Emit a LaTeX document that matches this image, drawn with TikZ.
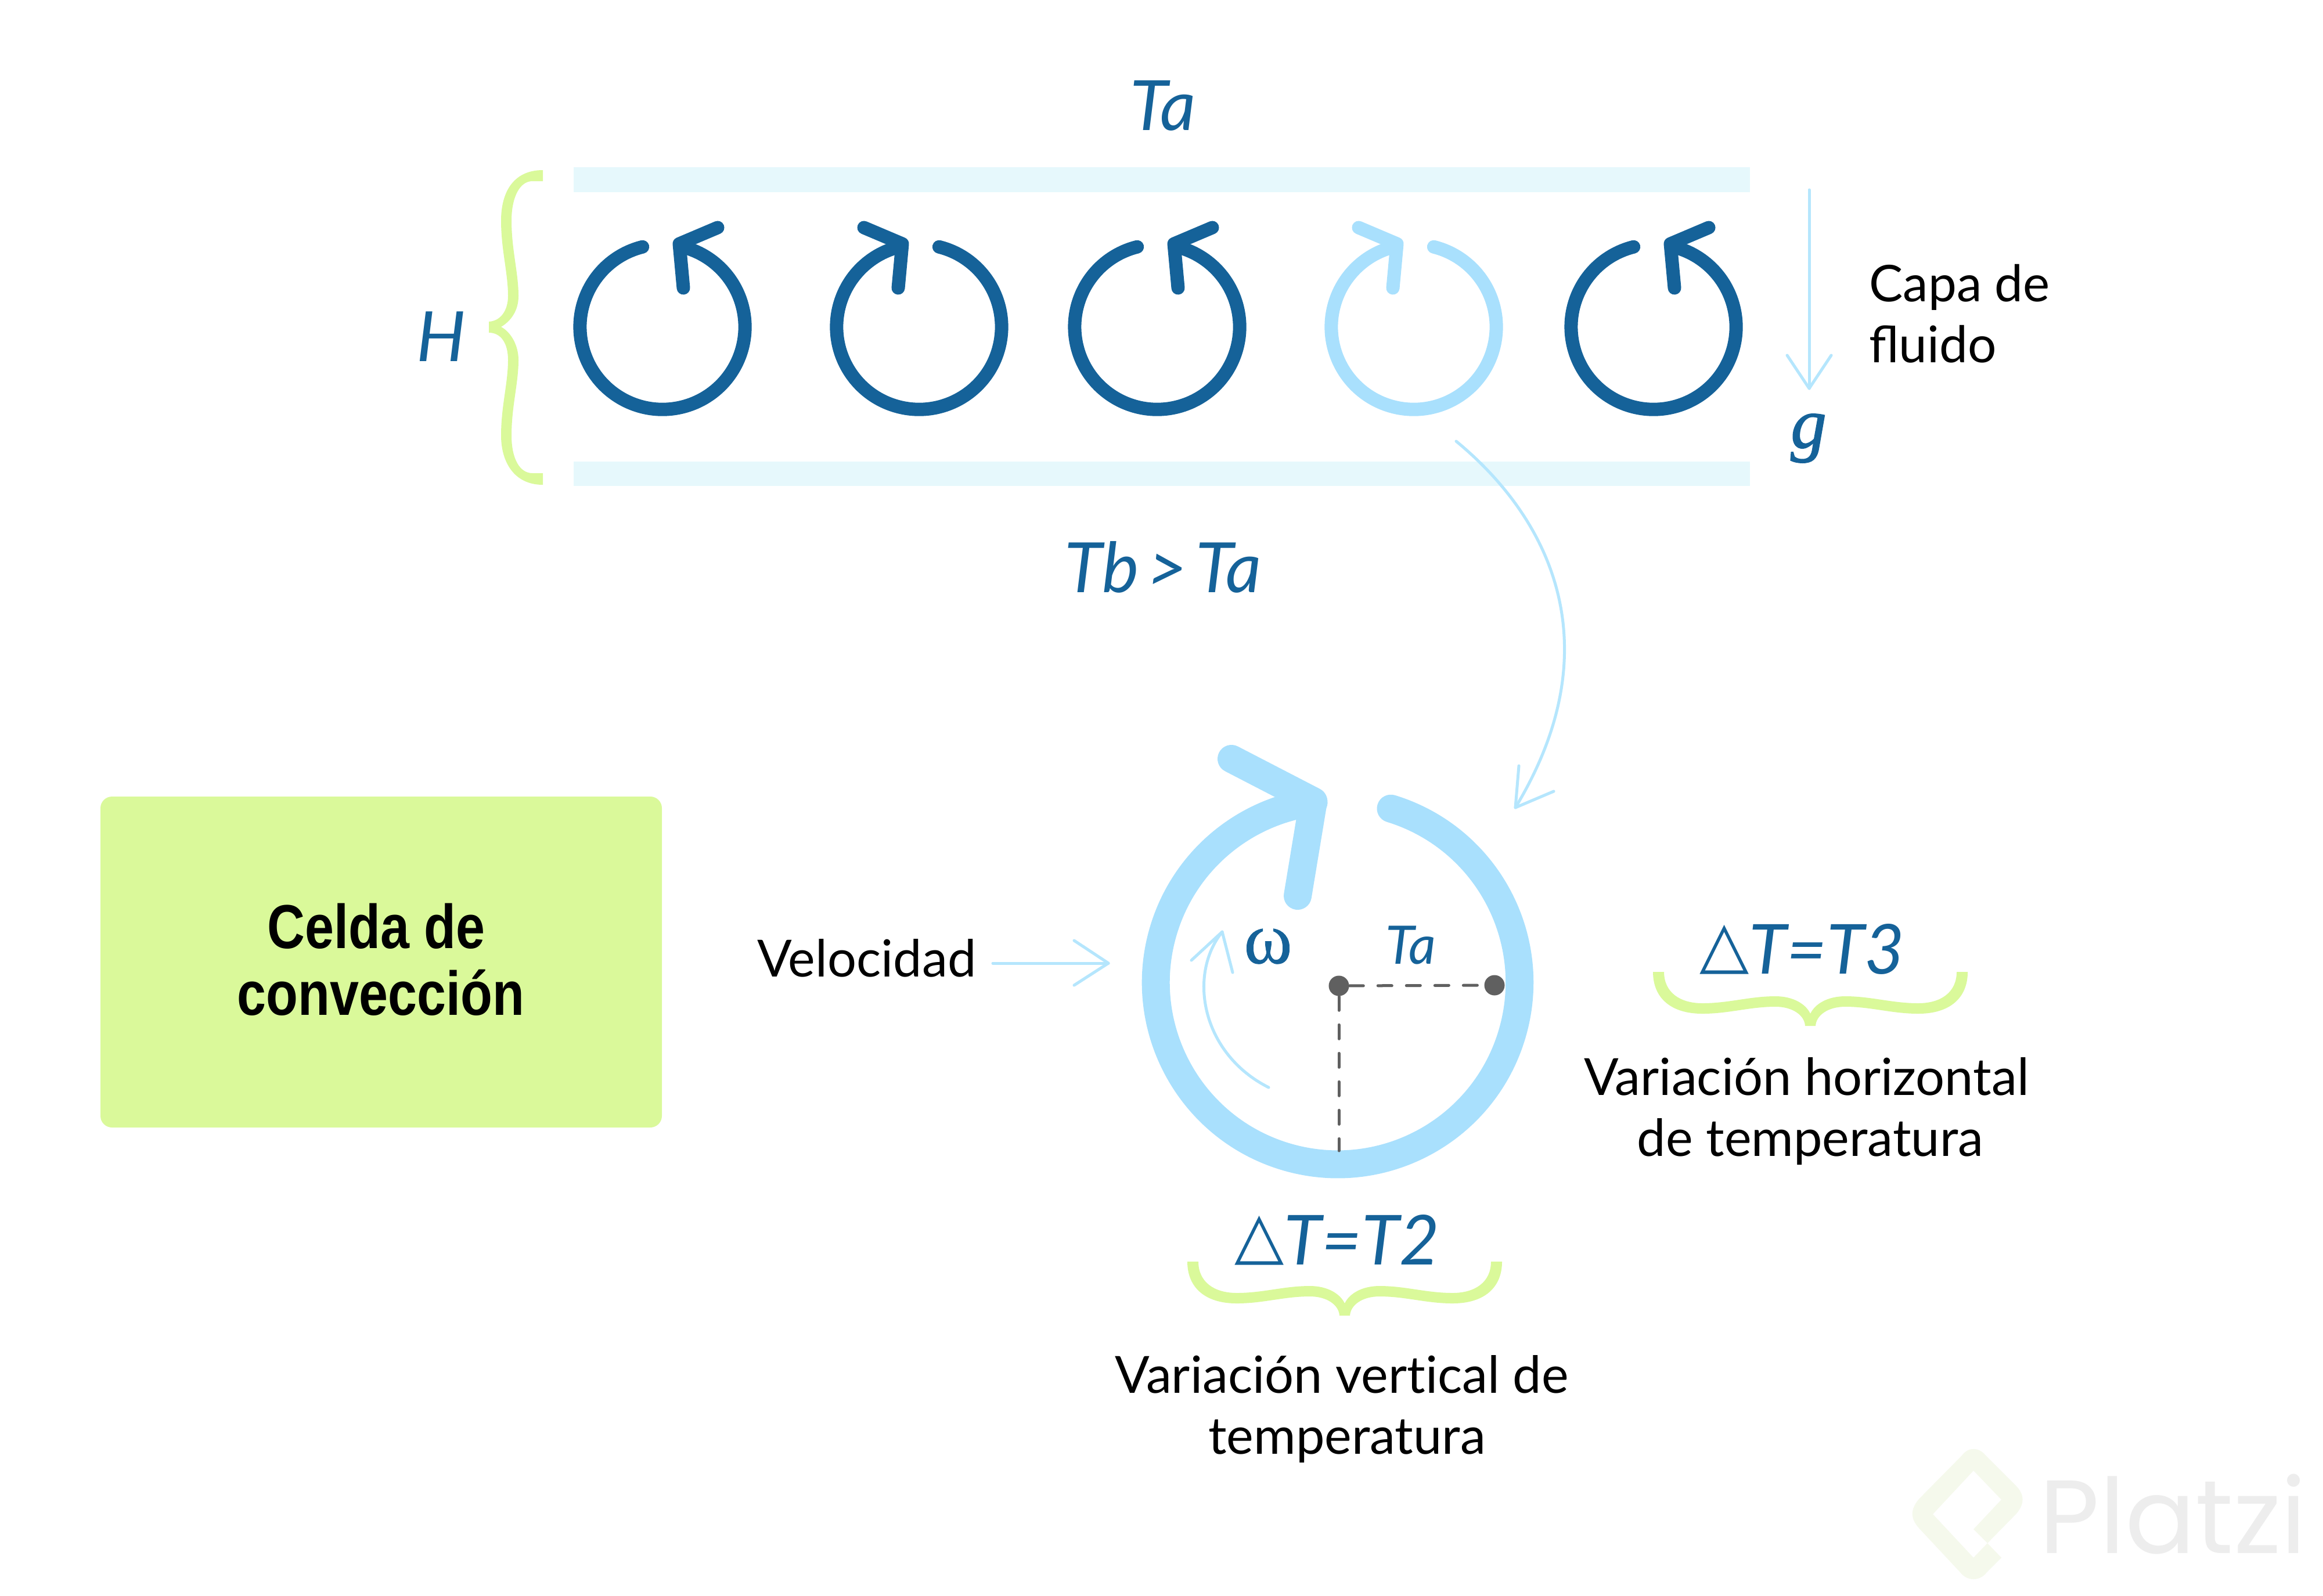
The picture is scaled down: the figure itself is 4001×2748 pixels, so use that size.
\documentclass[tikz,border=0pt]{standalone}
\usepackage{fontspec}
\setmainfont{Lato}
\newfontfamily\celdafont[FakeStretch=0.84]{Liberation Sans}
\newfontfamily\logofont{Poppins}
\newfontfamily\omegafont[FakeBold=0.6]{Liberation Serif}
\newfontfamily\gfont[ItalicFeatures={FakeBold=1.5}]{Liberation Serif}
\newfontfamily\trifont{DejaVu Sans}
\definecolor{dkblue}{HTML}{156299}
\definecolor{ltblue}{HTML}{A9E0FD}
\definecolor{thinblue}{HTML}{B5E6FD}
\definecolor{band}{HTML}{E6F8FC}
\definecolor{lime}{HTML}{DAF99A}
\definecolor{dashgrey}{HTML}{606060}
\definecolor{logotext}{HTML}{EDEDED}
\definecolor{logomark}{HTML}{F5F9EC}
\tikzset{
  x=0.01cm,y=-0.01cm,
  thinline/.style={draw=thinblue,line width=0.05cm,line cap=round,line join=round},
  ringline/.style={line width=0.23cm,line cap=round,line join=round},
  bigring/.style={draw=ltblue,line width=0.48cm,line cap=round,line join=round},
  dashedgrey/.style={draw=dashgrey,line width=0.05cm,line cap=round,dash pattern=on 0.24cm off 0.25cm},
  dotnode/.style={circle,fill=dashgrey,inner sep=0pt,minimum size=0.35cm},
  bluetext/.style={text=dkblue,inner sep=0pt,font=\fontsize{34}{34}\selectfont\itshape},
  blacktext/.style={text=black,inner sep=0pt,align=center,font=\fontsize{25.1}{30}\selectfont},
}
\newcommand{\tri}{\raisebox{0.11em}{\fontsize{31.5}{31.5}\selectfont\trifont △}}
% convection cell: #1 centre x, #2 colour, #3 =1 or -1 mirror
\newcommand{\cellring}[3]{%
  \begin{scope}[shift={(#1,563)},xscale=#3]
    \draw[ringline,draw=#2] ({142*cos(104)},{-142*sin(104)}) arc[start angle=104,end angle=438,radius=1.42cm];
    \draw[ringline,draw=#2] (95,-171) -- (29,-143) -- (36,-67);
  \end{scope}}
\newcommand{\hbrace}[2]{%
  \fill[lime,shift={(#1,#2)}] (-271,0) .. controls (-271,45) and (-240,72) .. (-186,72)
    .. controls (-140,72) and (-105,60) .. (-60,60) .. controls (-30,60) and (-10,75) .. (-9,93)
    -- (9,93) .. controls (10,75) and (30,60) .. (60,60) .. controls (105,60) and (140,72) .. (186,72)
    .. controls (240,72) and (271,45) .. (271,0) -- (252,0) .. controls (252,35) and (225,54) .. (186,54)
    .. controls (140,54) and (105,42) .. (60,42) .. controls (30,42) and (8,55) .. (0,72)
    .. controls (-8,55) and (-30,42) .. (-60,42) .. controls (-105,42) and (-140,54) .. (-186,54)
    .. controls (-225,54) and (-252,35) .. (-252,0) -- cycle;}
\begin{document}
\begin{tikzpicture}
\useasboundingbox (0,0) rectangle (4001,2748);
\fill[white] (0,0) rectangle (4001,2748);
% bands
\fill[band] (988,288) rectangle (3014,331);
\fill[band] (988,795) rectangle (3014,837);
% H brace
\fill[lime] (935,293) .. controls (885,293) and (863,330) .. (863,380) .. controls (863,430) and (875,470) .. (875,510)
  .. controls (875,535) and (862,553) .. (842,554) -- (842,573) .. controls (862,573) and (875,590) .. (875,620)
  .. controls (875,660) and (863,700) .. (863,750) .. controls (863,795) and (885,835) .. (935,835)
  -- (935,815) -- (917,815) .. controls (895,815) and (881,790) .. (881,750) .. controls (881,700) and (893,660) .. (893,620)
  .. controls (893,595) and (880,572) .. (863,563) .. controls (880,553) and (893,535) .. (893,510)
  .. controls (893,470) and (881,430) .. (881,380) .. controls (881,340) and (895,312) .. (917,312) -- (935,312) -- cycle;
% cells
\cellring{1141}{dkblue}{1}
\cellring{1583}{dkblue}{-1}
\cellring{1993}{dkblue}{1}
\cellring{2435}{ltblue}{-1}
\cellring{2848}{dkblue}{1}
% box
\fill[lime,rounded corners=0.2cm] (173,1372) rectangle (1140,1942);
\node[inner sep=0pt,align=center,text=black,font=\fontsize{30.4}{32.7}\selectfont\celdafont\bfseries] (celda) at (656,1653) {Celda de\hspace*{4.5pt}\\convección};
% labels
\node[bluetext] (ta) at (2003,182) {Ta};
\node[bluetext] (tb) at (2003,977) {Tb\hspace{0.12em}>\hspace{0.12em}Ta};
\node[bluetext] (h) at (760,580) {H};
\node[inner sep=0pt,text=dkblue,font=\fontsize{35}{35}\selectfont\gfont\itshape] (g) at (3115,755) {g};
\node[blacktext,align=left,font=\fontsize{24.8}{30}\selectfont] (capa) at (3375,540) {Capa de\\fluido};
\node[blacktext] (vel) at (1493,1650) {Velocidad};
\coordinate (velstart) at (1710,1659);
\coordinate (veltip) at (1909,1659);
\draw[thinline] (velstart) -- (veltip);
\draw[thinline] (1850,1620) -- (veltip) -- (1850,1697);
% g arrow
\coordinate (gstart) at (3116,327);
\coordinate (gtip) at (3116,669);
\draw[thinline] (gstart) -- (gtip);
\draw[thinline] (3078,612) -- (gtip) -- (3154,612);
% long curved arrow
\coordinate (cstart) at (2508,760);
\coordinate (ctip) at (2610,1391);
\draw[thinline] (cstart) .. controls (2672,895) and (2777,1115) .. (ctip);
\draw[thinline] (2616,1319) -- (ctip) -- (2676,1363);
% big ring
\draw[bigring] ({2304+313*cos(73)},{1692-313*sin(73)}) arc[start angle=73,end angle=-262.4,radius=3.13cm];
\draw[bigring] (2121,1307) -- (2262,1380) -- (2235,1543);
% inner arrow
\coordinate (wstart) at (2185,1873);
\coordinate (wtip) at (2105,1605);
\draw[thinline] (wstart) .. controls (2070,1815) and (2045,1680) .. (wtip);
\draw[thinline] (2052,1654) -- (wtip) -- (2123,1675);
% dashes
\node[dotnode] (centre) at (2306,1698) {};
\node[dotnode] (edge) at (2574,1697) {};
\coordinate (bottom) at (2306,1982);
\draw[dashedgrey] (centre) -- (edge);
\draw[dashedgrey] (centre) -- (bottom);
\node[inner sep=0pt,text=dkblue,font=\fontsize{36}{36}\selectfont\omegafont] (omega) at (2184,1630) {ω};
\node[bluetext,font=\fontsize{26}{26}\selectfont\itshape] (ta2) at (2430,1628) {Ta};
% delta labels
\node[bluetext,font=\fontsize{33.8}{34}\selectfont\itshape] (dt3) at (3104,1635) {\tri T=T3};
\hbrace{3118}{1674}
\node[blacktext] (varh) at (3118,1914) {Variación horizontal\hspace*{3.6pt}\\de temperatura};
\node[bluetext,font=\fontsize{33.8}{34}\selectfont\itshape] (dt2) at (2303,2136) {\tri T=T2};
\hbrace{2316}{2173}
\node[blacktext] (varv) at (2320,2427) {Variación vert\kern0pt ical de\hspace*{5pt}\\temperatura};
% logo
\fill[logomark] (3447,2683) -- (3422,2708) .. controls (3410,2724) and (3388,2724) .. (3376,2708)
  -- (3305,2632) .. controls (3290,2615) and (3290,2600) .. (3305,2582) -- (3379,2507)
  .. controls (3390,2492) and (3408,2492) .. (3420,2507) -- (3473,2560)
  .. controls (3487,2575) and (3487,2590) .. (3473,2607) -- (3423,2658) -- (3399,2634)
  -- (3447,2583) -- (3399,2533) -- (3329,2608) -- (3399,2683) -- (3423,2658) -- cycle;
\node[inner sep=0pt,anchor=base west,text=logotext,font=\fontsize{51}{51}\selectfont\logofont] (logo) at (3512,2675) {Platzi};
\end{tikzpicture}
\end{document}
